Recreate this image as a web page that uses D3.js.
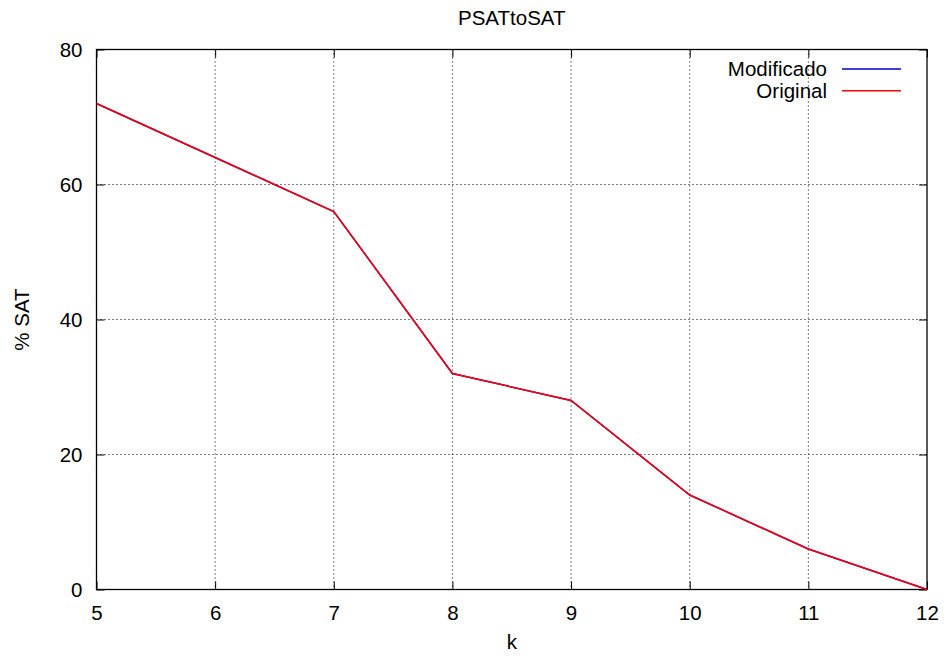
<!DOCTYPE html>
<html>
<head>
<meta charset="utf-8">
<script src="https://cdn.jsdelivr.net/npm/d3@7"></script>
<style>
body { margin: 0; background: #fff; }
svg text { font-family: "Liberation Sans", Arial, Helvetica, sans-serif; fill: #000; }
.grid line { stroke: #000; stroke-width: 1; stroke-dasharray: 1,3; }
</style>
</head>
<body>
<svg width="945" height="656"></svg>
<script>
var kValues = [5, 6, 7, 8, 9, 10, 11, 12];
var modificado = [72, 64, 56, 32, 28, 14, 6, 0];
var original = [72, 64, 56, 32, 28, 14, 6, 0];
var xTicks = [5, 6, 7, 8, 9, 10, 11, 12];
var yTicks = [0, 20, 40, 60, 80];
var seriesNames = ["Modificado", "Original"];
var seriesColors = ["#0000cc", "#ff0000"];

var fs = "20.5px";

var svg = d3.select("svg"),
  margin = {top: 49.5, right: 18, bottom: 66.5, left: 96.5},
  width = +svg.attr("width") - margin.left - margin.right,
  height = +svg.attr("height") - margin.top - margin.bottom;

var x = d3.scaleLinear().domain([5, 12]).range([0, width]),
  y = d3.scaleLinear().domain([0, 80]).range([height, 0]);

var g = svg.append("g")
  .attr("transform", "translate(" + margin.left + "," + margin.top + ")");

// grid
var grid = g.append("g").attr("class", "grid");
grid.selectAll(".gx").data(xTicks.slice(1, -1)).enter().append("line")
  .attr("x1", function (d) { return x(d); }).attr("x2", function (d) { return x(d); })
  .attr("y1", 0).attr("y2", height);
grid.selectAll(".gy").data(yTicks.slice(1, -1)).enter().append("line")
  .attr("y1", function (d) { return y(d); }).attr("y2", function (d) { return y(d); })
  .attr("x1", 0).attr("x2", width);

// axes with inward ticks (mirrored)
var tl = 8;
function styleAxis(sel, showText) {
  sel.select(".domain").remove();
  sel.selectAll(".tick line").attr("stroke", "#000");
  sel.selectAll(".tick text").style("font-size", fs);
  if (!showText) sel.selectAll(".tick text").remove();
}
g.append("g").attr("transform", "translate(0," + height + ")")
  .call(d3.axisBottom(x).tickValues(xTicks).tickFormat(d3.format("d"))
    .tickSizeInner(-tl).tickSizeOuter(0).tickPadding(15.5))
  .call(styleAxis, true);
g.append("g")
  .call(d3.axisTop(x).tickValues(xTicks).tickSizeInner(-tl).tickSizeOuter(0))
  .call(styleAxis, false);
g.append("g")
  .call(d3.axisLeft(y).tickValues(yTicks).tickFormat(d3.format("d"))
    .tickSizeInner(-tl).tickSizeOuter(0).tickPadding(14))
  .call(styleAxis, true);
g.append("g").attr("transform", "translate(" + width + ",0)")
  .call(d3.axisRight(y).tickValues(yTicks).tickSizeInner(-tl).tickSizeOuter(0))
  .call(styleAxis, false);

g.append("rect")
  .attr("width", width).attr("height", height)
  .attr("fill", "none").attr("stroke", "#000").attr("stroke-width", 1.3);

// lines
var line = d3.line()
  .x(function (d, i) { return x(kValues[i]); })
  .y(function (d) { return y(d); });

[modificado, original].forEach(function (s, i) {
  g.append("path")
    .datum(s)
    .attr("fill", "none")
    .attr("stroke", seriesColors[i])
    .attr("stroke-width", 1.5)
    .attr("d", line);
});

// legend
var legend = g.append("g").attr("transform", "translate(" + (width - 100) + ",19.5)");
seriesNames.forEach(function (name, i) {
  var row = legend.append("g").attr("transform", "translate(0," + (i * 21.7) + ")");
  row.append("text")
    .attr("text-anchor", "end").attr("dy", "0.35em")
    .style("font-size", fs)
    .text(name);
  row.append("line")
    .attr("x1", 15).attr("x2", 74)
    .attr("stroke", seriesColors[i]).attr("stroke-width", 1.5);
});

// titles
svg.append("text")
  .attr("x", margin.left + width / 2).attr("y", 25)
  .attr("text-anchor", "middle").style("font-size", fs)
  .text("PSATtoSAT");
svg.append("text")
  .attr("x", margin.left + width / 2).attr("y", 649)
  .attr("text-anchor", "middle").style("font-size", fs)
  .text("k");
svg.append("text")
  .attr("transform", "translate(29," + (margin.top + height / 2) + ") rotate(-90)")
  .attr("text-anchor", "middle").style("font-size", fs)
  .text("% SAT");
</script>
</body>
</html>
